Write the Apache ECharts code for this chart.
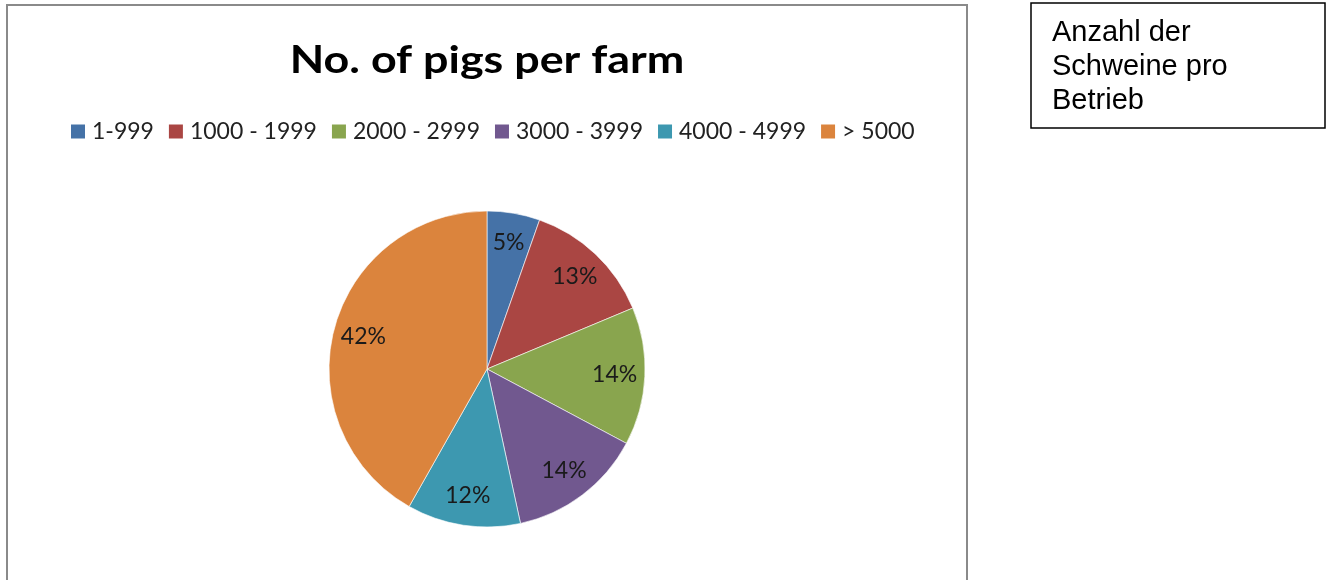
<!DOCTYPE html>
<html>
<head>
<meta charset="utf-8">
<script src="https://cdn.jsdelivr.net/npm/echarts@6/dist/echarts.min.js"></script>
<style>
html,body{margin:0;padding:0;background:#fff;}
#chart{width:1330px;height:580px;}
</style>
</head>
<body>
<div id="chart"></div>
<script>
const categories = ['1-999', '1000 - 1999', '2000 - 2999', '3000 - 3999', '4000 - 4999', '> 5000'];
const values = [5.4, 13.3, 14.1, 13.8, 11.6, 41.8];
const colors = ['#4572A7', '#AA4643', '#89A54E', '#71588F', '#3D98B0', '#DB843D'];
const titleText = 'No. of pigs per farm';
const noteLines = ['Anzahl der', 'Schweine pro', 'Betrieb'];

const chart = echarts.init(document.getElementById('chart'));
const data = categories.map((c, i) => ({ name: c, value: values[i], itemStyle: { color: colors[i] } }));
const cx = 487, cy = 369, R = 158;

chart.setOption({
  animation: false,
  legend: {
    data: categories,
    left: 64, top: 115,
    icon: 'rect', itemWidth: 16, itemHeight: 16, itemGap: 13,
    selectedMode: false,
    textStyle: { fontFamily: 'Lato', fontSize: 23, color: '#222', padding: [0, 0, 0, 1] }
  },
  graphic: [
    { type: 'rect', shape: { x: 7, y: 5, width: 960, height: 600 }, style: { fill: 'none', stroke: '#8a8a8a', lineWidth: 2 }, silent: true, z: -1 },
    { type: 'text', x: 487, y: 61, scaleX: 1.18, style: { text: titleText, font: 'bold 38px Lato', fill: '#000', textAlign: 'center', textVerticalAlign: 'middle' }, silent: true },
    { type: 'rect', shape: { x: 1031, y: 3, width: 294, height: 125 }, style: { fill: '#fff', stroke: '#000', lineWidth: 1.5 }, silent: true },
    { type: 'text', x: 1052, y: 16, style: { text: noteLines.join('\n'), font: '29px "Liberation Sans"', lineHeight: 34, fill: '#000' }, silent: true }
  ],
  series: [
    {
      type: 'pie', center: [cx, cy], radius: [0, R], startAngle: 90, clockwise: true,
      data: data, label: { show: false }, labelLine: { show: false },
      itemStyle: { borderColor: '#ffffff', borderWidth: 0.6 },
      emphasis: { disabled: true }, silent: true
    },
    {
      type: 'pie', center: [cx, cy], radius: [R * 0.58, R], startAngle: 90, clockwise: true,
      data: data.map(d => ({ name: d.name, value: d.value, itemStyle: { color: 'rgba(0,0,0,0)' } })),
      itemStyle: { borderWidth: 0 },
      label: {
        show: true, position: 'inside',
        formatter: p => Math.round(p.percent) + '%',
        fontFamily: 'Lato', fontSize: 23, color: '#1a1a1a'
      },
      labelLine: { show: false }, emphasis: { disabled: true }, silent: true, legendHoverLink: false
    }
  ]
});
</script>
</body>
</html>
